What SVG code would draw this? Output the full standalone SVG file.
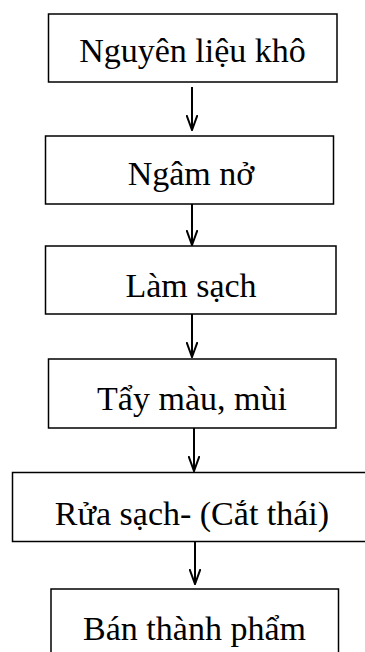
<svg xmlns="http://www.w3.org/2000/svg" width="365" height="652" viewBox="0 0 365 652">
<style>
.box{fill:#fff;stroke:#000;stroke-width:1.5}
.lbl{font-family:"Liberation Serif","Times New Roman",serif;font-size:34px;fill:#000;text-anchor:middle}
.ln{stroke:#000;stroke-width:2;fill:none}
</style>
<defs>
<marker id="ah" viewBox="0 0 16 12" refX="15" refY="6" markerWidth="16" markerHeight="12" markerUnits="userSpaceOnUse" orient="auto">
<path d="M0,0.5 L15,6 L0,11.5" fill="none" stroke="#000" stroke-width="2"/>
</marker>
</defs>
<g id="connectors">
<line class="ln" x1="192" y1="87" x2="192" y2="130" marker-end="url(#ah)"/>
<line class="ln" x1="192" y1="204" x2="192" y2="245" marker-end="url(#ah)"/>
<line class="ln" x1="192" y1="314" x2="192" y2="357" marker-end="url(#ah)"/>
<line class="ln" x1="194" y1="428" x2="194" y2="471" marker-end="url(#ah)"/>
<line class="ln" x1="195" y1="542" x2="195" y2="584" marker-end="url(#ah)"/>
</g>
<g id="n1"><rect class="box" x="48.5" y="14" width="288.5" height="68"/><text class="lbl" x="192.5" y="62">Nguyên liệu khô</text></g>
<g id="n2"><rect class="box" x="45.5" y="136" width="288" height="68"/><text class="lbl" x="191" y="185">Ngâm nở</text></g>
<g id="n3"><rect class="box" x="45.5" y="246" width="290.5" height="68"/><text class="lbl" x="191" y="297">Làm sạch</text></g>
<g id="n4"><rect class="box" x="48.5" y="359" width="287.5" height="69"/><text class="lbl" x="192" y="410">Tẩy màu, mùi</text></g>
<g id="n5"><rect class="box" x="12.5" y="472.5" width="360" height="69"/><text class="lbl" x="192" y="525">Rửa sạch- (Cắt thái)</text></g>
<g id="n6"><rect class="box" x="51" y="589" width="287.5" height="80"/><text class="lbl" x="194.5" y="640">Bán thành phẩm</text></g>
</svg>
